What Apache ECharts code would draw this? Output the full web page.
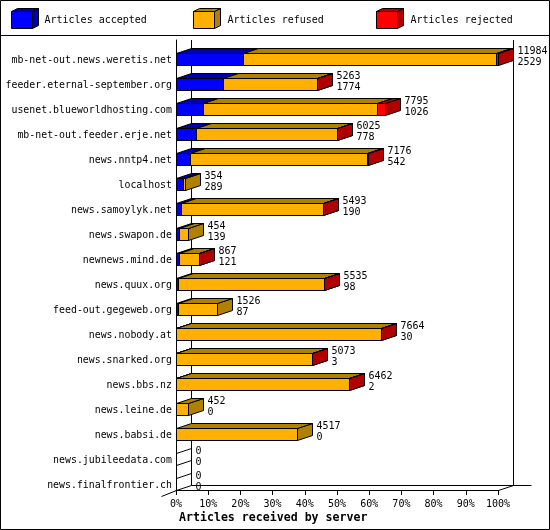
<!DOCTYPE html>
<html>
<head>
<meta charset="utf-8">
<style>html,body{margin:0;padding:0;background:#fff}#c{width:550px;height:530px}</style>
<script src="https://cdn.jsdelivr.net/npm/echarts@6/dist/echarts.min.js"></script>
</head>
<body>
<div id="c"></div>
<script>
const categories = ['mb-net-out.news.weretis.net','feeder.eternal-september.org','usenet.blueworldhosting.com','mb-net-out.feeder.erje.net','news.nntp4.net','localhost','news.samoylyk.net','news.swapon.de','newnews.mind.de','news.quux.org','feed-out.gegeweb.org','news.nobody.at','news.snarked.org','news.bbs.nz','news.leine.de','news.babsi.de','news.jubileedata.com','news.finalfrontier.ch'];
const accepted = [2529,1774,1026,778,542,289,190,139,121,98,87,30,3,2,0,0,0,0];
const refused  = [9405,3479,6459,5217,6594,65,5298,315,736,5434,1439,7631,5068,6458,452,4517,0,0];
const rejected = [50,10,310,30,40,0,5,0,10,3,0,3,2,2,0,0,0,0];
const seriesNames = ['Articles accepted','Articles refused','Articles rejected'];
const frontColors = ['#0000ff','#ffb000','#ff0000'];
const darkColors  = ['#0000b0','#b08000','#b00000'];
const tickValues = {min:0,max:100,interval:10};
const axisTitle = 'Articles received by server';

const FONT = '"DejaVu Sans Mono", monospace';
const DX = 15, DY = 5, H = 12;
const lists = [accepted, refused, rejected];
const totals = categories.map((_, i) => accepted[i] + refused[i] + rejected[i]);
const maxTotal = Math.max.apply(null, totals);
const pct = v => v / maxTotal * 100;
const stroke = {stroke:'#000', lineWidth:1};

function snap(v){ return Math.round(v) + 0.5; }

function barItem(si){
  return function(params, api){
    const start = api.value(0), end = api.value(1), row = api.value(2);
    const yc = api.coord([0,row])[1];
    const y0 = Math.floor(yc + 1) + 0.5, y1 = y0 + H;
    const x0 = snap(api.coord([start,row])[0] - 0.5), x1 = snap(api.coord([end,row])[0] - 0.5);
    const children = [];
    if (end <= start) {
      if (si === 0 && totals[row] === 0) {
        children.push({type:'line',silent:true,shape:{x1:x0,y1:y0,x2:x0+DX,y2:y0-DY},style:stroke});
        children.push({type:'line',silent:true,shape:{x1:x0,y1:y1,x2:x0+DX,y2:y1-DY},style:stroke});
      }
      return {type:'group',children};
    }
    children.push({type:'polygon',silent:true,shape:{points:[[x1,y0],[x1+DX,y0-DY],[x1+DX,y1-DY],[x1,y1]]},style:{fill:darkColors[si],stroke:'#000',lineWidth:1}});
    children.push({type:'polygon',silent:true,shape:{points:[[x0,y0],[x0+DX,y0-DY],[x1+DX,y0-DY],[x1,y0]]},style:{fill:darkColors[si],stroke:'#000',lineWidth:1}});
    children.push({type:'rect',silent:true,shape:{x:x0,y:y0,width:x1-x0,height:H},style:{fill:frontColors[si],stroke:'#000',lineWidth:1}});
    return {type:'group',children};
  };
}

function labelItem(params, api){
  const end = api.value(0), row = api.value(1);
  const yc = api.coord([0,row])[1];
  const y0 = Math.floor(yc + 1) + 0.5;
  const x = snap(api.coord([end,row])[0] - 0.5) + DX + 4;
  return {type:'group',children:[
    {type:'text',silent:true,style:{x,y:y0-2,text:String(totals[row]),font:'10px '+FONT,fill:'#000',verticalAlign:'middle',align:'left'}},
    {type:'text',silent:true,style:{x,y:y0+9,text:String(accepted[row]),font:'10px '+FONT,fill:'#000',verticalAlign:'middle',align:'left'}}
  ]};
}

function wallItem(params){
  const c = params.coordSys;
  const l = snap(c.x), r = snap(c.x + c.width), t = c.y, b = snap(c.y + c.height);
  const ln = (a,b2,c2,d) => ({type:'line',silent:true,shape:{x1:a,y1:b2,x2:c2,y2:d},style:stroke});
  return {type:'group',children:[
    ln(l+DX,t,l+DX,b-DY),
    ln(r+DX,t,r+DX,b-DY),
    ln(l+DX,b-DY,r+DX+18,b-DY),
    ln(r,b,r+DX,b-DY),
    ln(l,b,l-DX,b+DY+1)
  ]};
}

function legendFaces(x, i){
  const y = 11.5, w = 21, h = 17, dx = 6, dy = 3;
  return [
    {type:'polygon',silent:true,z:50,shape:{points:[[x+w,y],[x+w+dx,y-dy],[x+w+dx,y+h-dy],[x+w,y+h]]},style:{fill:darkColors[i],stroke:'#000',lineWidth:1}},
    {type:'polygon',silent:true,z:50,shape:{points:[[x,y],[x+dx,y-dy],[x+w+dx,y-dy],[x+w,y]]},style:{fill:darkColors[i],stroke:'#000',lineWidth:1}}
  ];
}

const legendLefts = [11, 193, 376];
const legendTextGaps = [7, 8, 8];
const chart = echarts.init(document.getElementById('c'), null, {renderer:'canvas'});
let acc = categories.map(() => 0);
const barSeries = lists.map((list, si) => {
  const data = list.map((v, i) => {
    const s = pct(acc[i]);
    acc[i] += v;
    return [s, pct(acc[i]), i];
  });
  return {
    type:'custom', name:seriesNames[si], coordinateSystem:'cartesian2d',
    renderItem:barItem(si), data, encode:{x:[0,1],y:2}, z:3, silent:true, clip:false,
    itemStyle:{color:frontColors[si]}
  };
});

chart.setOption({
  animation:false,
  backgroundColor:'#fff',
  title:{text:axisTitle,left:179,top:512,padding:0,textStyle:{fontFamily:FONT,fontSize:11.6,fontWeight:'bold',color:'#000'}},
  legend:seriesNames.map((n,i)=>({
    data:[n],left:legendLefts[i],top:11,padding:0,itemWidth:21,itemHeight:17,icon:'rect',selectedMode:false,
    itemStyle:{borderColor:'#000',borderWidth:1},
    textStyle:{fontFamily:FONT,fontSize:10,color:'#000',padding:[0,0,0,legendTextGaps[i]]}
  })),
  grid:{left:176,top:40,width:322,height:450,containLabel:false},
  xAxis:{type:'value',min:tickValues.min,max:tickValues.max,interval:tickValues.interval,
    axisLine:{show:true,lineStyle:{color:'#000',width:1}},
    axisTick:{show:true,length:5,lineStyle:{color:'#000',width:1}},
    splitLine:{show:false},
    axisLabel:{formatter:'{value}%',fontFamily:FONT,fontSize:10,color:'#000',margin:9,showMinLabel:true,showMaxLabel:true,hideOverlap:false}},
  yAxis:{type:'category',inverse:true,data:categories,
    axisLine:{show:true,onZero:false,lineStyle:{color:'#000',width:1}},
    axisTick:{show:false},splitLine:{show:false},
    axisLabel:{interval:0,fontFamily:FONT,fontSize:9.9,lineHeight:15,color:'#000',margin:4,verticalAlign:'top'}},
  graphic:{elements:[
    {type:'rect',silent:true,z:100,shape:{x:0.5,y:0.5,width:549,height:529},style:{fill:'none',stroke:'#000',lineWidth:1}},
    {type:'line',silent:true,z:100,shape:{x1:0,y1:35.5,x2:550,y2:35.5},style:{stroke:'#000',lineWidth:1}}
  ].concat(legendFaces(11.5,0),legendFaces(193.5,1),legendFaces(376.5,2))},
  series:[
    {type:'custom',name:'walls',coordinateSystem:'cartesian2d',renderItem:wallItem,data:[[0,0]],z:1,silent:true,clip:false},
    ...barSeries,
    {type:'custom',name:'labels',coordinateSystem:'cartesian2d',renderItem:labelItem,
     data:totals.map((t,i)=>[pct(t),i]),encode:{x:0,y:1},z:4,silent:true,clip:false}
  ]
});
</script>
</body>
</html>
